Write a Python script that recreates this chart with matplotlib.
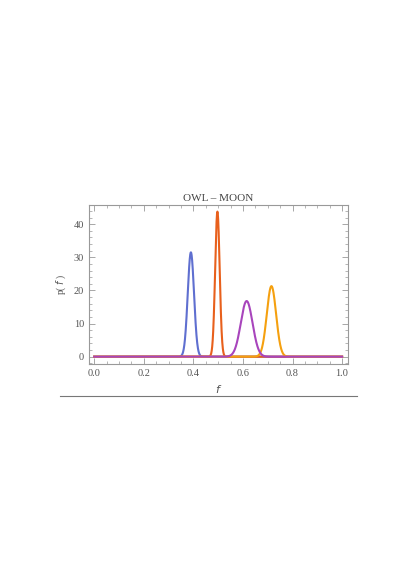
import numpy as np
import matplotlib.pyplot as plt
from matplotlib.lines import Line2D
from matplotlib.ticker import MultipleLocator

# peak position and peak height, one per curve
names = ["blue", "red", "purple", "orange"]
centers = [0.39, 0.497, 0.615, 0.715]
peaks = [31.5, 43.8, 16.8, 21.3]
colors = ["#5f6fd0", "#e8601c", "#a845bc", "#f5a00f"]

x_ticks = [0.0, 0.2, 0.4, 0.6, 0.8, 1.0]
y_ticks = [0, 10, 20, 30, 40]

plt.rcParams['font.family'] = ['Liberation Serif', 'DejaVu Serif']

fig = plt.figure(figsize=(4.16, 5.88), dpi=100)
ax = fig.add_axes([0.214, 0.381, 0.6226, 0.2704])

f = np.linspace(0, 1, 2001)
for c, p, col, z in zip(centers, peaks, colors, [1, 2, 4, 3]):
    sig = 1.0 / (p * np.sqrt(2 * np.pi))
    ax.plot(f, p * np.exp(-0.5 * ((f - c) / sig) ** 2), color=col, lw=1.5, zorder=z)

ax.set_xlim(-0.021, 1.024)
ax.set_ylim(-2.2, 45.8)
ax.set_xticks(x_ticks)
ax.set_yticks(y_ticks)
ax.set_xticklabels(["%.1f" % t for t in x_ticks])
ax.xaxis.set_minor_locator(MultipleLocator(0.05))
ax.yaxis.set_minor_locator(MultipleLocator(2))
ax.tick_params(which='both', direction='in', top=True, right=True, color='#999999',
               labelcolor='#555555', labelsize=7.5)
ax.tick_params(which='major', length=4, width=0.6)
ax.tick_params(which='minor', length=2, width=0.5)
for s in ax.spines.values():
    s.set_color('#999999')
    s.set_linewidth(0.8)

ax.set_title("OWL \u2013 MOON", fontsize=8, color='#444444', pad=3)
ax.set_xlabel("$f$", fontsize=8, color='#555555', labelpad=4)
ax.set_ylabel("p( $f$ )", fontsize=7, color='#555555', labelpad=4)

fig.add_artist(Line2D([60 / 416, 357 / 416], [1 - 396 / 588] * 2, color='#777777', lw=0.8))

fig.savefig("out.png", dpi=100)
